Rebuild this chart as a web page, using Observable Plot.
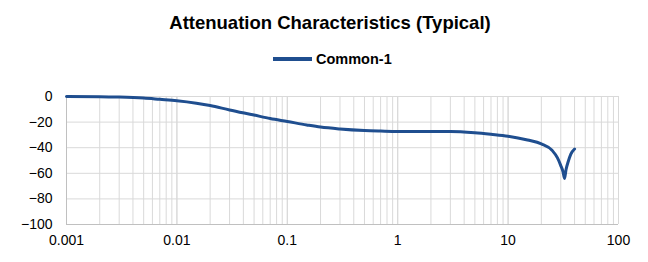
<!DOCTYPE html>
<html>
<head>
<meta charset="utf-8">
<script src="https://cdn.jsdelivr.net/npm/d3@7"></script>
<script src="https://cdn.jsdelivr.net/npm/@observablehq/plot@0.6"></script>
<style>
  body { margin: 0; background: #fff; font-family: "Liberation Sans", Arial, sans-serif; }
  #wrap { position: relative; width: 648px; height: 262px; overflow: hidden; }
  #title { position: absolute; left: 0; width: 660px; top: 12px; text-align: center; font-weight: bold; font-size: 18.5px; color: #000; }
  #legend { position: absolute; left: 273px; top: 51px; display: flex; align-items: center; font-weight: bold; font-size: 14.5px; color: #000; }
  #legend .sw { width: 39px; height: 4px; background: #1f4e8f; margin-right: 4px; }
  #chart { position: absolute; left: 0; top: 80px; }
</style>
</head>
<body>
<div id="wrap">
  <div id="title">Attenuation Characteristics (Typical)</div>
  <div id="legend"><div class="sw"></div><span>Common-1</span></div>
  <div id="chart"></div>
</div>
<script>
const seriesName = "Common-1";
const freq = [0.001, 0.002, 0.003, 0.005, 0.007, 0.01, 0.015, 0.02, 0.03, 0.05, 0.07, 0.1, 0.15, 0.2, 0.3, 0.5, 0.7, 1, 2, 3, 5, 7, 10, 15, 20, 25, 28, 30, 31.5, 32.4, 33.5, 35, 37, 40];
const att  = [0, -0.1, -0.4, -1.2, -2.2, -3.3, -5.2, -7, -10.5, -14.5, -17.2, -19.5, -22.2, -23.9, -25.4, -26.6, -27.0, -27.3, -27.3, -27.3, -28.3, -29.5, -31, -34, -37, -42, -48, -54, -59, -64, -57, -51, -45, -41];
const xTicks = [0.001, 0.01, 0.1, 1, 10, 100];
const yTicks = [0, -20, -40, -60, -80, -100];

const data = freq.map((f, i) => ({f, a: att[i]}));
const minorX = [];
for (let d = -3; d < 2; d++) for (let k = 1; k <= 10; k++) minorX.push(k * Math.pow(10, d));

const chart = Plot.plot({
  width: 648,
  height: 182,
  marginLeft: 66,
  marginRight: 30,
  marginTop: 16,
  marginBottom: 38,
  style: { fontFamily: "'Liberation Sans', Arial, sans-serif", fontSize: "14px", color: "#000", background: "transparent" },
  x: { type: "log", domain: [0.001, 100], ticks: xTicks, tickFormat: d => String(d), tickSize: 0, tickPadding: 11, label: null },
  y: { domain: [-100, 0], ticks: yTicks, tickSize: 0, tickPadding: 14, label: null },
  marks: [
    Plot.ruleX(minorX, { stroke: "#d9d9d9", strokeWidth: 1 }),
    Plot.ruleY(yTicks, { stroke: "#d9d9d9", strokeWidth: 1 }),
    Plot.ruleX([0.001], { stroke: "#c0c0c0" }),
    Plot.ruleY([-100], { stroke: "#c0c0c0" }),
    Plot.axisX({ ticks: xTicks, tickFormat: d => String(d), tickSize: 0, tickPadding: 11, fontSize: 14 }),
    Plot.axisY({ ticks: yTicks, tickSize: 0, tickPadding: 14, fontSize: 14 }),
    Plot.line(data, { x: "f", y: "a", stroke: "#1f4e8f", strokeWidth: 3, curve: "monotone-x" })
  ]
});
document.getElementById("chart").appendChild(chart);
</script>
</body>
</html>
